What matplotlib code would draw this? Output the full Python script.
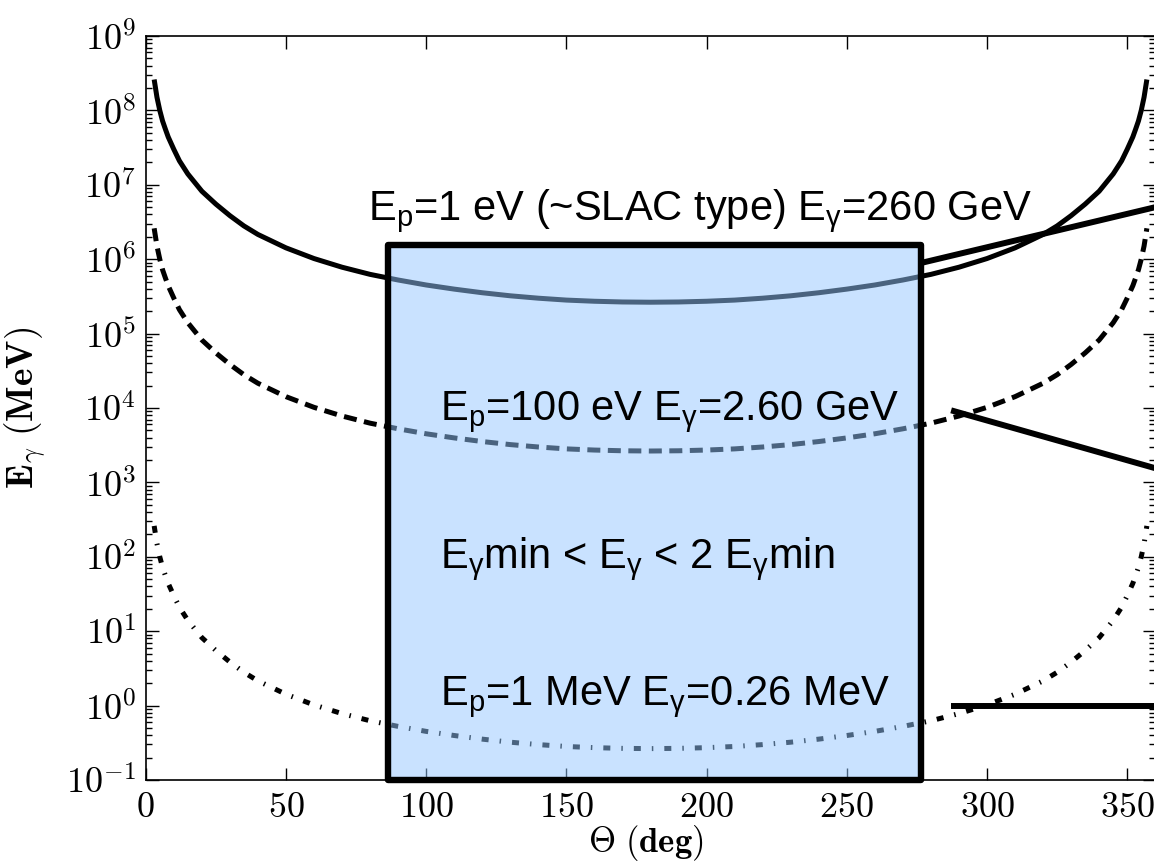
import matplotlib
matplotlib.use("Agg")
import matplotlib.pyplot as plt
from matplotlib.patches import Rectangle
from matplotlib.ticker import FuncFormatter, LogLocator, FixedLocator, NullLocator
import numpy as np

plt.rcParams['mathtext.fontset'] = 'cm'
plt.rcParams['mathtext.rm'] = 'Liberation Sans'
plt.rcParams['mathtext.it'] = 'Liberation Sans'
plt.rcParams['mathtext.sf'] = 'Liberation Sans'
plt.rcParams['mathtext.bf'] = 'Liberation Sans:bold'

# ---------------- data ----------------
theta = [3, 4, 5, 6, 7, 8, 10, 12, 15, 20, 25, 30, 35, 40, 50, 60, 70, 80, 90,
         100, 110, 120, 130, 140, 150, 160, 170, 180, 190, 200, 210, 220, 230,
         240, 250, 260, 270, 280, 290, 300, 310, 320, 325, 330, 335, 340, 345,
         348, 350, 352, 353, 354, 355, 356, 357]

E_1eV = [2.6e8, 1.5e8, 1.0e8, 7.2e7, 5.6e7, 4.4e7, 3.0e7, 2.1e7, 1.4e7, 8.2e6,
         5.5e6, 3.85e6, 2.8e6, 2.15e6, 1.42e6, 1.02e6, 7.8e5, 6.25e5, 5.25e5,
         4.5e5, 3.96e5, 3.54e5, 3.22e5, 2.99e5, 2.82e5, 2.72e5, 2.66e5, 2.64e5,
         2.66e5, 2.72e5, 2.82e5, 2.99e5, 3.22e5, 3.54e5, 3.96e5, 4.5e5, 5.25e5,
         6.25e5, 7.8e5, 1.02e6, 1.42e6, 2.15e6, 2.8e6, 3.85e6, 5.5e6, 8.2e6,
         1.4e7, 2.1e7, 3.0e7, 4.4e7, 5.6e7, 7.2e7, 1.0e8, 1.5e8, 2.6e8]

E_100eV = [2.6e6, 1.5e6, 1.0e6, 7.2e5, 5.6e5, 4.4e5, 3.0e5, 2.1e5, 1.4e5, 8.2e4,
           5.5e4, 3.85e4, 2.8e4, 2.15e4, 1.42e4, 1.02e4, 7.8e3, 6.25e3, 5.25e3,
           4.5e3, 3.96e3, 3.54e3, 3.22e3, 2.99e3, 2.82e3, 2.72e3, 2.66e3, 2.64e3,
           2.66e3, 2.72e3, 2.82e3, 2.99e3, 3.22e3, 3.54e3, 3.96e3, 4.5e3, 5.25e3,
           6.25e3, 7.8e3, 1.02e4, 1.42e4, 2.15e4, 2.8e4, 3.85e4, 5.5e4, 8.2e4,
           1.4e5, 2.1e5, 3.0e5, 4.4e5, 5.6e5, 7.2e5, 1.0e6, 1.5e6, 2.6e6]

E_1MeV = [260, 150, 100, 72, 56, 44, 30, 21, 14, 8.2,
          5.5, 3.85, 2.8, 2.15, 1.42, 1.02, 0.78, 0.625, 0.525,
          0.45, 0.396, 0.354, 0.322, 0.299, 0.282, 0.272, 0.266, 0.264,
          0.266, 0.272, 0.282, 0.299, 0.322, 0.354, 0.396, 0.45, 0.525,
          0.625, 0.78, 1.02, 1.42, 2.15, 2.8, 3.85, 5.5, 8.2,
          14, 21, 30, 44, 56, 72, 100, 150, 260]

# highlighted band
band_theta = [86.5, 276.5]
band_E = [0.1, 1.55e6]

# pointer lines (theta, E)
ptr1_theta = [276.5, 360]
ptr1_E = [8.9e5, 5.0e6]
ptr2_theta = [287.2, 360]
ptr2_E = [9.3e3, 1.55e3]
ptr3_theta = [287.2, 360]
ptr3_E = [1.0, 1.0]

x_ticks = [0, 50, 100, 150, 200, 250, 300, 350]

labels = [
    (79.4, 10**6.53, r'E$_\mathrm{p}$=1 eV (~SLAC type) E$_\gamma$=260 GeV'),
    (105.1, 10**3.84, r'E$_\mathrm{p}$=100 eV E$_\gamma$=2.60 GeV'),
    (105.1, 10**1.85, r'E$_\gamma$min < E$_\gamma$ < 2 E$_\gamma$min'),
    (105.1, 10**0.01, r'E$_\mathrm{p}$=1 MeV E$_\gamma$=0.26 MeV'),
]

# ---------------- figure ----------------
fig = plt.figure(figsize=(11.54, 8.63), dpi=100)
ax = fig.add_axes([0.1263, 0.0962, 0.8748, 0.8621])

lw = 3.6
ax.plot(theta, E_1eV, color='black', lw=lw, solid_capstyle='butt', zorder=2)
ax.plot(theta, E_100eV, color='black', lw=lw, dashes=(2.6, 1.5), zorder=2)
ax.plot(theta, E_1MeV, color='black', lw=lw, dashes=(1.4, 2.2, 0.3, 2.2), zorder=2)

rect = Rectangle((band_theta[0], band_E[0]), band_theta[1] - band_theta[0],
                 band_E[1] - band_E[0], facecolor=(0.58, 0.78, 1.0, 0.5),
                 edgecolor='black', linewidth=4.6, joinstyle='round',
                 zorder=3, clip_on=False)
ax.add_patch(rect)

for tx, ty in [(ptr1_theta, ptr1_E), (ptr2_theta, ptr2_E), (ptr3_theta, ptr3_E)]:
    ax.plot(tx, ty, color='black', lw=4.3, solid_capstyle='butt', zorder=4,
            clip_on=False)

for x, y, s in labels:
    ax.text(x, y, s, fontsize=30, family='Liberation Sans', math_fontfamily='custom',
            ha='left', va='baseline', zorder=5)

ax.set_yscale('log')
ax.set_xlim(0, 360)
ax.set_ylim(1e-1, 1e9)

ax.xaxis.set_major_locator(FixedLocator(x_ticks))
ax.xaxis.set_minor_locator(NullLocator())
ax.xaxis.set_major_formatter(FuncFormatter(lambda v, p: r'$%d$' % v))
ax.yaxis.set_major_locator(LogLocator(base=10, numticks=20))
ax.yaxis.set_minor_locator(LogLocator(base=10, subs=np.arange(2, 10), numticks=20))
ax.yaxis.set_major_formatter(FuncFormatter(lambda v, p: r'$10^{%d}$' % int(round(np.log10(v)))))

ax.tick_params(which='both', direction='in', top=True, right=True, labelsize=26,
               width=1.0)
ax.tick_params(which='major', length=9, pad=7)
ax.tick_params(which='minor', length=4.5)
for s in ax.spines.values():
    s.set_linewidth(1.2)

ax.set_xlabel(r'$\mathbf{\Theta\ (deg)}$', fontsize=25)
ax.set_ylabel(r'$\mathbf{E}_{\gamma}\ \mathbf{(MeV)}$', fontsize=27)
ax.xaxis.set_label_coords(0.495, -0.058)
ax.yaxis.set_label_coords(-0.097, 0.5)

fig.savefig('out.png', dpi=100)
